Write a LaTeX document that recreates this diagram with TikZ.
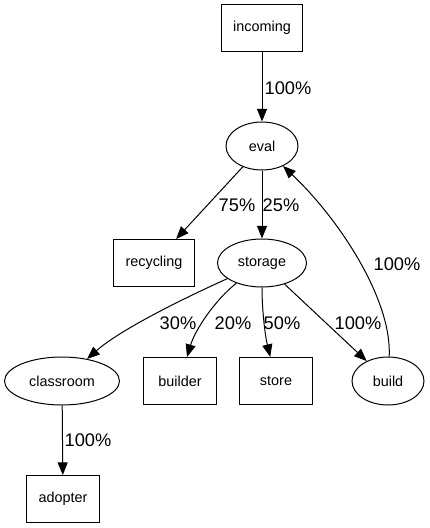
\documentclass[tikz,border=0pt]{standalone}
\usepackage{fontspec}
\setmainfont{Liberation Sans}
\usepackage{tikz}
\usetikzlibrary{arrows.meta,shapes.geometric}
\definecolor{GVInk}{HTML}{000000}
\definecolor{GVPaper}{HTML}{FFFFFF}
\tikzset{
  flow/.style={-{Triangle[length=9.5pt,width=7.5pt]},GVInk,line width=0.75pt},
  boxnode/.style={draw=GVInk,line width=0.75pt,fill=GVPaper,rectangle,inner sep=0pt,
                  minimum height=35.25pt,font=\fontsize{10.8}{13}\selectfont},
  ovalnode/.style={draw=GVInk,line width=0.75pt,fill=GVPaper,ellipse,inner sep=0pt,
                   minimum height=36pt,font=\fontsize{10.8}{13}\selectfont},
  share/.style={text=GVInk,font=\fontsize{13.7}{16}\selectfont,inner sep=0pt},
}
\begin{document}
\begin{tikzpicture}[x=.75pt,y=-.75pt]
    \useasboundingbox[fill=GVPaper] (0,0) rectangle (429,528);

    % nodes
    \node[boxnode,minimum width=60.75pt] (incoming) at (262,28) {incoming};
    \node[ovalnode,minimum width=54pt] (eval) at (262,146) {eval};
    \node[boxnode,minimum width=60.75pt] (recycling) at (154,263) {recycling};
    \node[ovalnode,minimum width=66.75pt] (storage) at (262,263) {storage};
    \node[ovalnode,minimum width=86.25pt] (classroom) at (62,381) {classroom};
    \node[boxnode,minimum width=54.75pt] (builder) at (180,381) {builder};
    \node[boxnode,minimum width=54.75pt] (store) at (276,381) {store};
    \node[ovalnode,minimum width=54pt] (build) at (388,381) {build};
    \node[boxnode,minimum width=54.75pt] (adopter) at (63,499) {adopter};

    % edges
    \draw[flow] (incoming) -- (eval);
    \node[share] at (288,88) {100\%};

    \draw[flow] (eval) -- (recycling);
    \node[share] at (237,205) {75\%};
    \draw[flow] (eval) -- (storage);
    \node[share] at (281,205) {25\%};

    \draw[flow] (storage) .. controls (180,300) and (120,330) .. (classroom);
    \node[share] at (178,323) {30\%};
    \draw[flow] (storage) .. controls (215,300) and (195,330) .. (builder);
    \node[share] at (233,323) {20\%};
    \draw[flow] (storage) .. controls (262,310) and (265,335) .. (store);
    \node[share] at (282,323) {50\%};
    \draw[flow] (storage) -- (build);
    \node[share] at (358,323) {100\%};

    \draw[flow] (build) .. controls (392,300) and (340,220) .. (eval);
    \node[share] at (397,264) {100\%};

    \draw[flow] (classroom) -- (adopter);
    \node[share] at (88,440) {100\%};
  \end{tikzpicture}
\end{document}
